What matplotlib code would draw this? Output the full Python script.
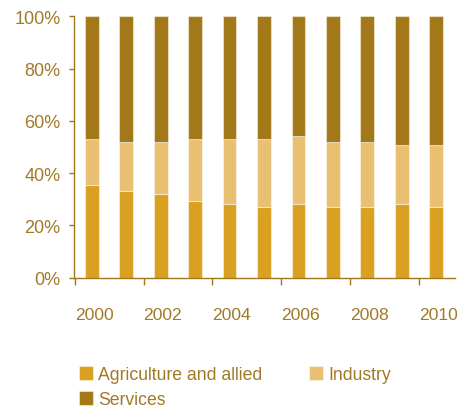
import matplotlib
matplotlib.use("Agg")
import matplotlib.pyplot as plt
import numpy as np

years = [str(y) for y in range(2000, 2011)]
agriculture = [35.6, 33.3, 32.1, 29.3, 28.3, 27.1, 28.3, 27.1, 27.1, 28.3, 27.1]
industry = [17.5, 18.5, 19.7, 23.8, 24.8, 26.0, 25.9, 24.7, 24.7, 22.3, 23.5]
services = [46.9, 48.2, 48.2, 46.9, 46.9, 46.9, 45.8, 48.2, 48.2, 49.4, 49.4]
series_names = ["Agriculture and allied", "Industry", "Services"]
y_ticks = [0, 20, 40, 60, 80, 100]
x_tick_labels = ["2000", "2002", "2004", "2006", "2008", "2010"]

c_agri = "#DAA022"
c_ind = "#E9C071"
c_serv = "#A27818"
c_text = "#A07A28"
c_axis = "#A07820"

plt.rcParams["font.family"] = ["Liberation Sans", "DejaVu Sans"]

fig = plt.figure(figsize=(4.57, 4.10), dpi=100)
ax = fig.add_axes([74 / 457, 1 - 278.7 / 410, (455 - 74) / 457, (278.7 - 17.3) / 410])

x = np.arange(len(years))
w = 0.40
edge = (1, 1, 1, 0.45)
agri = np.array(agriculture)
ind = np.array(industry)
serv = np.array(services)
ax.bar(x, agri, width=w, color=c_agri, edgecolor=edge, linewidth=0.8, label=series_names[0])
ax.bar(x, ind, width=w, bottom=agri, color=c_ind, edgecolor=edge, linewidth=0.8, label=series_names[1])
ax.bar(x, serv, width=w, bottom=agri + ind, color=c_serv, edgecolor=edge, linewidth=0.8, label=series_names[2])

ax.set_xlim(-0.52, 10.55)
ax.set_ylim(0, 100)

ax.set_yticks(y_ticks)
ax.set_yticklabels([f"{v}%" for v in y_ticks])
ax.set_xticks(np.arange(0, len(years), 2) - 0.5)
ax.set_xticklabels(x_tick_labels, ha="left")

for s in ["top", "right"]:
    ax.spines[s].set_visible(False)
for s in ["left", "bottom"]:
    ax.spines[s].set_color(c_axis)
    ax.spines[s].set_linewidth(1.0)

ax.tick_params(axis="y", length=3.3, width=1.0, color=c_axis, pad=6.5,
               labelsize=13, labelcolor=c_text)
ax.tick_params(axis="x", length=5.2, width=1.0, color=c_axis, pad=16,
               labelsize=12.6, labelcolor=c_text)

handles, labels = ax.get_legend_handles_labels()
order = [0, 2, 1]
leg = fig.legend([handles[i] for i in order], [labels[i] for i in order],
                 loc="upper left", bbox_to_anchor=(79 / 457, 1 - 367 / 410),
                 ncol=2, frameon=False, fontsize=12.7, borderpad=0,
                 handlelength=0.8, handleheight=0.8, handletextpad=0.3,
                 columnspacing=2.6, labelspacing=0.45, borderaxespad=0)
for t in leg.get_texts():
    t.set_color(c_text)

fig.savefig("out.png", dpi=100)
